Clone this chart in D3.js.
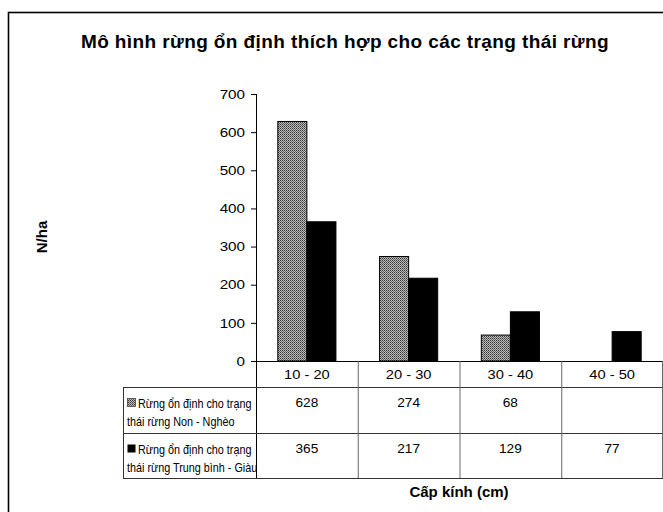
<!DOCTYPE html>
<html><head><meta charset="utf-8">
<script src="https://cdn.jsdelivr.net/npm/d3@7"></script>
<style>body{margin:0;background:#fff}svg{display:block;font-family:"Liberation Sans",Arial,sans-serif}</style>
</head><body><svg id="c" width="663" height="512"></svg>
<script>
const categories = ["10 - 20", "20 - 30", "30 - 40", "40 - 50"];
const seriesNames = [["Rừng ổn định cho trạng", "thái rừng Non - Nghèo"], ["Rừng ổn định cho trạng", "thái rừng Trung bình - Giàu"]];
const seriesNonNgheo = [628, 274, 68, null];
const seriesTrungBinhGiau = [365, 217, 129, 77];
const yTicks = [0, 100, 200, 300, 400, 500, 600, 700];
const title = "Mô hình rừng ổn định thích hợp cho các trạng thái rừng";
const xTitle = "Cấp kính (cm)";
const yTitle = "N/ha";

(function(){
const series = [seriesNonNgheo, seriesTrungBinhGiau];
const svg = d3.select("#c");
const stretch = (sel, f) => sel.each(function(){
  const L = this.getComputedTextLength();
  this.setAttribute("textLength", (L*f).toFixed(2));
  this.setAttribute("lengthAdjust", "spacingAndGlyphs");
});
const defs = svg.append("defs");
const pat = defs.append("pattern").attr("id","chk").attr("width",2).attr("height",2).attr("patternUnits","userSpaceOnUse");
pat.append("rect").attr("width",2).attr("height",2).attr("fill","#b8b8b8");
pat.append("rect").attr("width",1).attr("height",1).attr("fill","#3a3a3a");
pat.append("rect").attr("x",1).attr("y",1).attr("width",1).attr("height",1).attr("fill","#666");
const fills = ["url(#chk)", "#000"];

svg.append("rect").attr("x",8.5).attr("y",12.5).attr("width",700).attr("height",600).attr("fill","none").attr("stroke","#000").attr("stroke-width",1.6);

svg.append("text").attr("x",345).attr("y",48).attr("text-anchor","middle").attr("font-size",19).attr("font-weight","bold").attr("letter-spacing",0.4).text(title);

const pLeft = 256, pRight = 663, pTop = 94, pBottom = 361;
const x = d3.scaleBand().domain(categories).range([pLeft, pRight]).paddingInner(0).paddingOuter(0);
const y = d3.scaleLinear().domain([0,700]).range([pBottom, pTop]);
const bw = x.bandwidth()/3.5;

const yAxis = svg.append("g").attr("transform",`translate(${pLeft},0)`)
  .call(d3.axisLeft(y).tickValues(yTicks).tickSize(5).tickPadding(6).tickFormat(d3.format("d")));
yAxis.select(".domain").remove();
yAxis.selectAll("line").attr("stroke","#000");
yAxis.selectAll("text").attr("font-size",13).attr("fill","#000").attr("font-family","Liberation Sans, Arial");
stretch(yAxis.selectAll("text"), 1.17);

series.forEach((s,i)=>{
  svg.append("g").selectAll("rect").data(categories.map((c,j)=>({c,v:s[j]})).filter(d=>d.v!=null))
    .join("rect")
    .attr("x",d=>x(d.c)+x.bandwidth()/2 - bw + i*bw)
    .attr("y",d=>y(d.v))
    .attr("width",bw)
    .attr("height",d=>pBottom - y(d.v))
    .attr("fill",fills[i]).attr("stroke","#000").attr("stroke-width",1);
});

svg.append("line").attr("x1",pLeft+0.5).attr("x2",pLeft+0.5).attr("y1",pTop).attr("y2",478).attr("stroke","#000");

const tLeft = 123, rows = [361, 387, 433, 478];
const g = svg.append("g").attr("stroke-width",1);
g.append("line").attr("x1",pLeft).attr("x2",pRight).attr("y1",rows[0]+0.5).attr("y2",rows[0]+0.5).attr("stroke","#000");
rows.slice(1).forEach(r=>g.append("line").attr("x1",tLeft).attr("x2",pRight).attr("y1",r+0.5).attr("y2",r+0.5).attr("stroke","#333"));
g.append("line").attr("x1",tLeft+0.5).attr("x2",tLeft+0.5).attr("y1",rows[1]).attr("y2",rows[3]).attr("stroke","#333");
categories.forEach(c=>{
  const xr = Math.min(x(c)+x.bandwidth(), pRight-1)+0.5;
  g.append("line").attr("x1",xr).attr("x2",xr).attr("y1",rows[0]).attr("y2",rows[3]).attr("stroke","#666");
});
const catT = svg.append("g").selectAll("text").data(categories).join("text")
  .attr("x",d=>x(d)+x.bandwidth()/2).attr("y",379).attr("text-anchor","middle").attr("font-size",13).text(d=>d);
stretch(catT, 1.13);

series.forEach((s,i)=>{
  const rt = rows[i+1];
  svg.append("rect").attr("x",127.5).attr("y",rt+11.5).attr("width",8).attr("height",8).attr("fill",fills[i]).attr("stroke",i===0?"#444":"#000").attr("stroke-width",i===0?0.8:0);
  seriesNames[i].forEach((ln,k)=>{
    const t = svg.append("text").attr("x", k===0?138:127).attr("y",rt+21+k*18).attr("font-size",13).text(ln);
    stretch(t, 0.83);
  });
  const vt = svg.append("g").selectAll("text").data(categories.map((c,j)=>({c,v:s[j]})).filter(d=>d.v!=null)).join("text")
    .attr("x",d=>x(d.c)+x.bandwidth()/2).attr("y",rt+20).attr("text-anchor","middle").attr("font-size",13).text(d=>d.v);
  stretch(vt, 1.05);
});

svg.append("text").attr("x",459).attr("y",497).attr("text-anchor","middle").attr("font-size",15).attr("font-weight","bold").text(xTitle);
svg.append("text").attr("transform","translate(47,237) rotate(-90)").attr("text-anchor","middle").attr("font-size",15).attr("font-weight","bold").text(yTitle);
})();
</script></body></html>
